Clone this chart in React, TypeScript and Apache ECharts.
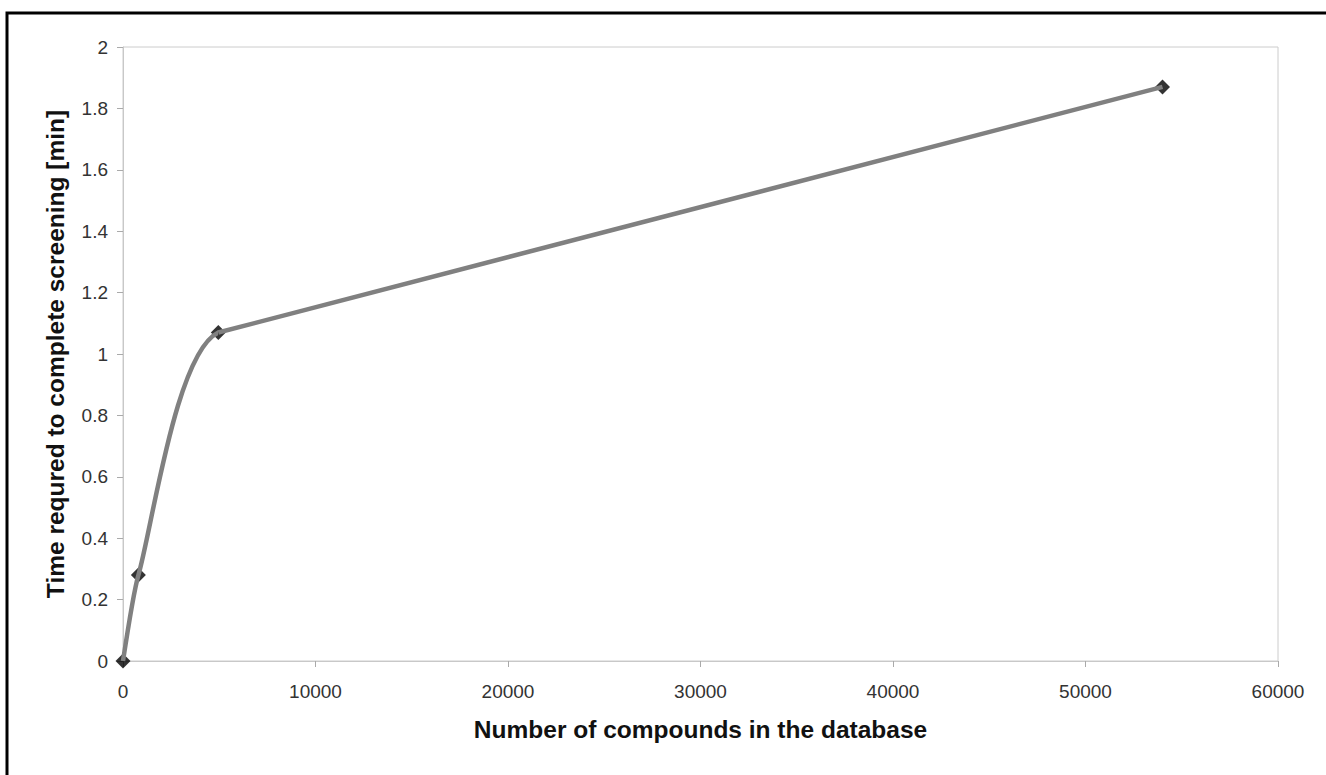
import React, { useEffect, useRef } from "react";
import * as echarts from "echarts";

const xValues = [0, 800, 4950, 54000];
const yValues = [0, 0.28, 1.07, 1.87];
const xTitle = "Number of compounds in the database";
const yTitle = "Time requred to complete screening [min]";

export default function App() {
  const ref = useRef<HTMLDivElement>(null);
  useEffect(() => {
    const chart = echarts.init(ref.current!, null, { renderer: "svg" });
    const pts = xValues.map((x, i) => [x, yValues[i]]);
    const lineColor = "#808080";
    const lineWidth = 4.5;
    const knee = xValues[2];
    chart.setOption({
      animation: false,
      backgroundColor: "#ffffff",
      grid: {
        left: 123,
        right: 48,
        top: 47,
        bottom: 114,
        show: true,
        borderColor: "#cccccc",
        borderWidth: 1,
      },
      visualMap: {
        type: "piecewise",
        show: false,
        dimension: 0,
        seriesIndex: 1,
        pieces: [
          { lt: 0, color: lineColor },
          { gte: 0, lte: knee, color: lineColor },
          { gt: knee, color: "rgba(128,128,128,0)" },
        ],
      },
      xAxis: {
        type: "value",
        min: 0,
        max: 60000,
        interval: 10000,
        name: xTitle,
        nameLocation: "middle",
        nameGap: 56,
        nameTextStyle: { fontFamily: "Liberation Sans", fontWeight: "bold", fontSize: 24.5, color: "#111" },
        axisLine: { lineStyle: { color: "#c8c8c8" } },
        axisTick: { show: true, length: 6, lineStyle: { color: "#aaaaaa" } },
        axisLabel: {
          fontFamily: "Liberation Sans",
          fontSize: 19,
          color: "#333",
          margin: 21,
          formatter: (v: number) => String(v),
        },
        splitLine: { show: false },
      },
      yAxis: {
        type: "value",
        min: 0,
        max: 2,
        interval: 0.2,
        name: yTitle,
        nameLocation: "middle",
        nameGap: 55,
        nameTextStyle: { fontFamily: "Liberation Sans", fontWeight: "bold", fontSize: 24.5, color: "#111" },
        axisLine: { show: true, lineStyle: { color: "#c8c8c8" } },
        axisTick: { show: true, length: 6, lineStyle: { color: "#aaaaaa" } },
        axisLabel: {
          fontFamily: "Liberation Sans",
          fontSize: 19,
          color: "#333",
          margin: 15,
          formatter: (v: number) => String(Math.round(v * 10) / 10),
        },
        splitLine: { show: false },
      },
      graphic: [
        {
          type: "rect",
          shape: { x: 7, y: 13, width: 1400, height: 850 },
          style: { fill: "none", stroke: "#000", lineWidth: 3 },
          silent: true,
        },
      ],
      series: [
        {
          type: "scatter",
          data: pts,
          symbol: "path://M0,-1L1,0L0,1L-1,0Z",
          symbolSize: 15,
          itemStyle: { color: "#000" },
          z: 2,
        },
        {
          type: "line",
          data: pts,
          smooth: 0.2,
          showSymbol: false,
          lineStyle: { width: lineWidth },
          z: 3,
        },
        {
          type: "line",
          data: pts.slice(2),
          smooth: false,
          showSymbol: false,
          lineStyle: { color: lineColor, width: lineWidth },
          z: 3,
        },
      ],
    });
    return () => chart.dispose();
  }, []);
  return (
    <div
      ref={ref}
      style={{ position: "fixed", left: 0, top: 0, width: 1326, height: 775 }}
    />
  );
}
